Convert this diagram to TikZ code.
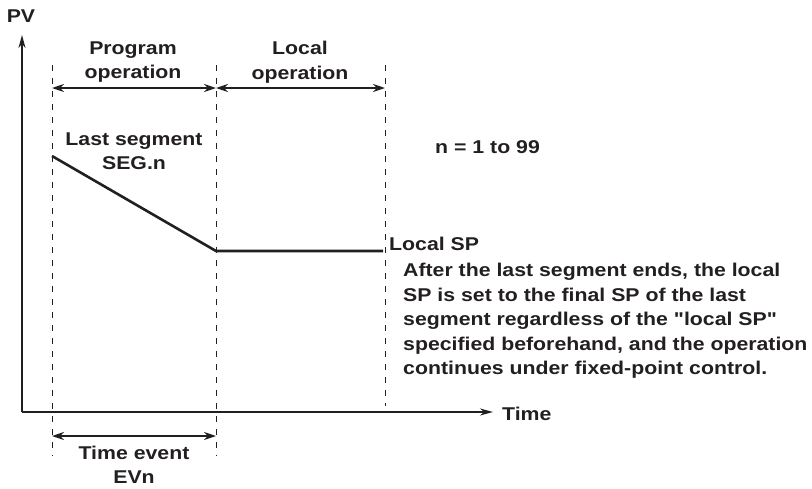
\documentclass[tikz,border=0pt]{standalone}
\usepackage{fontspec}
\newfontfamily\labfont{Liberation Sans}[FakeStretch=1.15]
\usetikzlibrary{arrows.meta}
\definecolor{ink}{HTML}{231F20}
\tikzset{
  lab/.style={font=\labfont\bfseries\fontsize{18.5}{24.5}\selectfont, text=ink, inner sep=0pt},
  guide/.style={draw=ink, line width=1pt, dash pattern=on 6pt off 7pt},
  axis/.style={draw=ink, line width=1.6pt, -{Stealth[length=13pt,width=7pt]}},
  span/.style={draw=ink, line width=1.8pt, {Stealth[length=12pt,width=8pt]}-{Stealth[length=12pt,width=8pt]}},
  curve/.style={draw=ink, line width=2.6pt}
}
\begin{document}
\begin{tikzpicture}[x=1pt,y=-1pt]
\useasboundingbox (0,0) rectangle (812,488);
% axes
\coordinate (O) at (22,412);
\coordinate (Ytop) at (22,35);
\coordinate (Xend) at (493,412);
\draw[axis] (O) -- (Ytop);
\draw[axis] (O) -- (Xend);
\node[lab, anchor=center] (pv) at (21,16) {PV};
\node[lab, anchor=west] (time) at (502,414) {Time};
% guides
\coordinate (g1t) at (52,65);  \coordinate (g1b) at (52,456);
\coordinate (g2t) at (216,65); \coordinate (g2b) at (216,456);
\coordinate (g3t) at (385,65); \coordinate (g3b) at (385,406);
\draw[guide] (g1t) -- (g1b);
\draw[guide] (g2t) -- (g2b);
\draw[guide] (g3t) -- (g3b);
% spans
\coordinate (s1) at (52,88); \coordinate (s2) at (216,88); \coordinate (s3) at (385,88);
\draw[span] (s1) -- (s2);
\draw[span] (s2) -- (s3);
\coordinate (e1) at (52,436); \coordinate (e2) at (216,436);
\draw[span] (e1) -- (e2);
\node[lab, align=center] (prog) at (133,62) {Program\\operation};
\node[lab, align=center] (loc) at (300,62) {Local\\operation};
\node[lab, align=center] (tev) at (134,465) {Time event\\EVn};
% profile
\coordinate (p1) at (52,156);
\coordinate (p2) at (216,251);
\coordinate (p3) at (383,251);
\draw[curve] (p1) -- (p2) -- (p3);
\node[lab, align=center] (seg) at (134,151) {Last segment\\SEG.n};
\node[lab, anchor=west] (lsp) at (389,244) {Local SP};
\node[lab, anchor=west] (nr) at (435,147) {n = 1 to 99};
\node[lab, align=left, anchor=north west] (note) at (403,263) {After the last segment ends, the local\\SP is set to the final SP of the last\\segment regardless of the "local SP"\\specified beforehand, and the operation\\continues under fixed-point control.};
\end{tikzpicture}
\end{document}
